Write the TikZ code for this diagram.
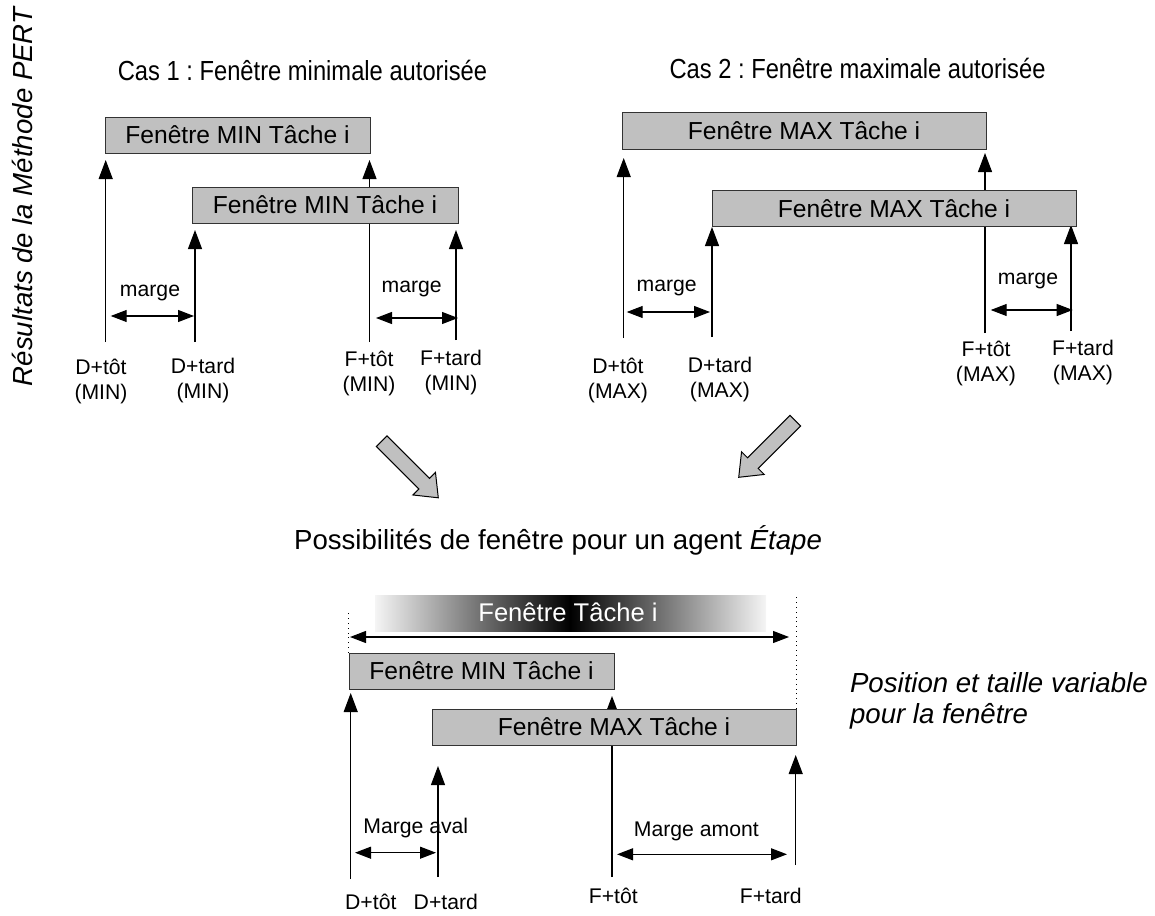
\documentclass[tikz,border=0pt]{standalone}
\usepackage{fontspec}
\setmainfont{Liberation Sans}
\newfontfamily\narrowsans[FakeStretch=0.86]{Liberation Sans}
\usetikzlibrary{arrows.meta}
\definecolor{boxgray}{RGB}{192,192,192}
\frenchspacing

\begin{document}
\begin{tikzpicture}[x=0.5pt,y=-0.5pt,
    win/.style={draw=black!80, fill=boxgray, line width=0.5pt, inner sep=0pt,
      minimum height=18pt, font=\fontsize{12.3}{14}\selectfont},
    vec/.style={line width=0.55pt, -{Triangle[length=9.5pt,width=7pt]}},
    marge/.style={line width=0.55pt, {Triangle[length=8pt,width=6pt]}-{Triangle[length=8pt,width=6pt]}},
    lbl/.style={font=\fontsize{10.6}{12.5}\selectfont, align=center, inner sep=0pt},
    bigarrow/.style={draw=black, fill=boxgray, line width=0.5pt, line join=miter}]
    \useasboundingbox (0,0) rectangle (1155,915);
    \def \big {\fontsize{13.8}{15.5}\selectfont}

    % titres
    \node[rotate=90, font=\big\itshape] (pert) at (22,197) {Résultats de la Méthode PERT};
    \node[font=\narrowsans\big] (cas1) at (302.5,70) {Cas 1 : Fenêtre minimale autorisée};
    \node[font=\narrowsans\big] (cas2) at (857.5,68) {Cas 2 : Fenêtre maximale autorisée};
    \node[font=\big] (poss) at (558,540) {Possibilités de fenêtre pour un agent \textit{Étape}};
    \node[font=\big\itshape, align=left, anchor=west] (varia) at (843,701)
      {Position et taille variable\\pour la fenêtre};

    % dates (fleches verticales)
    \foreach \n/\x/\yb/\yt in {a1/105.7/342/160, b1/369.5/342/160, c1/195/342/230, d1/456/340/230,
                               a2/623.7/338/158, b2/985/333/153, c2/712/337/227, d2/1071/331/225,
                               a3/350.7/879/693, b3/612/877/696, c3/438/877/766, d3/795.7/865/755}
    {
      \coordinate (\n-base) at (\x,\yb);
      \coordinate (\n-tip) at (\x,\yt);
      \draw[vec] (\n-base) -- (\n-tip);
    }

    % fenetres
    \node[win, minimum width=132.5pt] (min1) at (237.5,135) {Fenêtre MIN Tâche i};
    \node[win, minimum width=133pt] (min2) at (325,205) {Fenêtre MIN Tâche i};
    \node[win, minimum width=182pt] (max1) at (804,131) {Fenêtre MAX Tâche i};
    \node[win, minimum width=182pt] (max2) at (894,208.5) {Fenêtre MAX Tâche i};
    \node[win, minimum width=132.5pt] (min3) at (481.5,671) {Fenêtre MIN Tâche i};
    \node[win, minimum width=182pt] (max3) at (614,727) {Fenêtre MAX Tâche i};

    % marges
    \foreach \n/\xa/\xb/\y in {m1/110.7/194/316, m2/376/458/318, m3/626.7/710/312, m4/990.7/1072.7/310,
                               m5/355/436/852.7, m6/617/787/854.3}
    {
      \coordinate (\n-l) at (\xa,\y);
      \coordinate (\n-r) at (\xb,\y);
      \draw[marge] (\n-l) -- (\n-r);
    }
    \node[lbl] (mt1) at (150,293) {marge};
    \node[lbl] (mt2) at (411.7,289) {marge};
    \node[lbl] (mt3) at (666.7,288) {marge};
    \node[lbl] (mt4) at (1028,281) {marge};
    \node[lbl] (mt5) at (415.8,828) {Marge aval};
    \node[lbl] (mt6) at (696.3,831) {Marge amont};

    % etiquettes des dates
    \node[lbl] (dtot1) at (101,381) {D+tôt\\(MIN)};
    \node[lbl] (dtard1) at (203,381) {D+tard\\(MIN)};
    \node[lbl] (ftot1) at (369,373) {F+tôt\\(MIN)};
    \node[lbl] (ftard1) at (451,373) {F+tard\\(MIN)};
    \node[lbl] (dtot2) at (618,380) {D+tôt\\(MAX)};
    \node[lbl] (dtard2) at (720,380) {D+tard\\(MAX)};
    \node[lbl] (ftot2) at (986,363) {F+tôt\\(MAX)};
    \node[lbl] (ftard2) at (1083,363) {F+tard\\(MAX)};
    \node[lbl] (dtot3) at (370.8,901.7) {D+tôt};
    \node[lbl] (dtard3) at (445.8,901.7) {D+tard};
    \node[lbl] (ftot3) at (613.3,896) {F+tôt};
    \node[lbl] (ftard3) at (770.8,896) {F+tard};

    % fenetre possible
    \shade[left color=gray!8, right color=black] (375,595) rectangle (570,631);
    \shade[left color=black, right color=gray!8] (570,595) rectangle (766,631);
    \node[text=white, font=\fontsize{12.8}{14}\selectfont] (tache) at (568,612) {Fenêtre Tâche i};
    \coordinate (w-l) at (350,637);
    \coordinate (w-r) at (789,637);
    \draw[marge] (w-l) -- (w-r);
    \draw[dotted] (min3.north west) -- ++(0,-41);
    \draw[dotted] (max3.north east) -- ++(0,-113);

    % grosses fleches
    \foreach \cx/\cy/\ang in {410/469.5/-45, 767/449/-135}
    {
      \begin{scope}[shift={(\cx,\cy)}, rotate=\ang]
        \draw[bigarrow] (-40,-7.5) -- (20,-7.5) -- (20,-16) -- (40,0) -- (20,16) -- (20,7.5) -- (-40,7.5) -- cycle;
      \end{scope}
    }
\end{tikzpicture}
\end{document}
